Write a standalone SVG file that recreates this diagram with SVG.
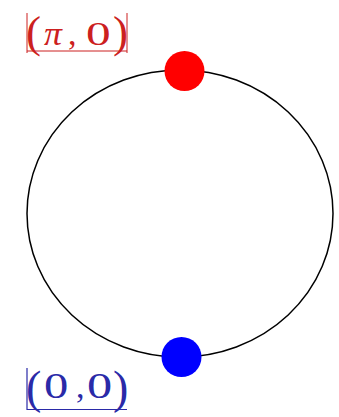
<svg xmlns="http://www.w3.org/2000/svg" width="339" height="417" viewBox="0 0 339 417">
<style>
text{font-family:"Liberation Serif","Times New Roman",serif}
.dg{font-size:34px}
.red{fill:#cc2020}
.blue{fill:#2a2aa8}
</style>
<rect width="339" height="417" fill="#fff"/>
<g id="circle">
<ellipse cx="180" cy="213.5" rx="153" ry="143.5" fill="none" stroke="#000" stroke-width="1.5"/>
</g>
<g id="node-top">
<circle cx="184.5" cy="71" r="20" fill="#ff0000"/>
<text class="red" font-size="45" y="47"><tspan x="26">(</tspan><tspan x="113">)</tspan></text>
<text class="dg red" font-style="italic" transform="translate(44,45) scale(1.05,1)">π</text>
<text class="dg red" x="68" y="45">,</text>
<text class="dg red" transform="translate(86,45) scale(1.45,1)">0</text>
<path d="M27 13V53M127 13V53M27 51H127" fill="none" stroke="#cc2020" stroke-width="1"/>
</g>
<g id="node-bottom">
<circle cx="181.5" cy="357" r="20" fill="#0000ff"/>
<text class="blue" font-size="46" y="403"><tspan x="26">(</tspan><tspan x="113">)</tspan></text>
<text class="blue" font-size="36" transform="translate(44,398) scale(1.35,1)">0</text>
<text class="blue" font-size="34" x="76" y="398">,</text>
<text class="blue" font-size="36" transform="translate(87,398) scale(1.4,1)">0</text>
<path d="M27 368V410M27 409.5H127" fill="none" stroke="#2a2aa8" stroke-width="1.2"/>
</g>
</svg>
